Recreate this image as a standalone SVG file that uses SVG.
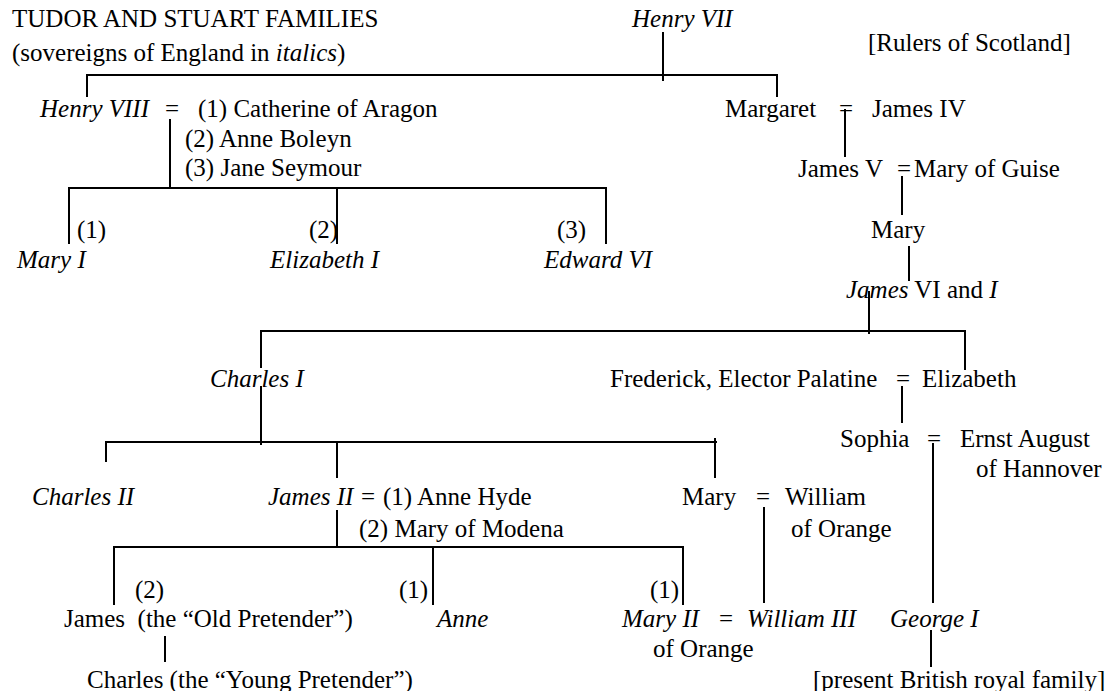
<svg xmlns="http://www.w3.org/2000/svg" width="1118" height="691" viewBox="0 0 1118 691">
<style>
text{font-family:"Liberation Serif","Times New Roman",serif;font-size:25px;fill:#000}
.i{font-style:italic}
#connectors line{stroke:#000;stroke-width:2;fill:none}
</style>
<rect width="1118" height="691" fill="#fff"/>
<g id="connectors">
<line x1="663" y1="32" x2="663" y2="81"/>
<line x1="86" y1="75" x2="778" y2="75"/>
<line x1="87" y1="75" x2="87" y2="97"/>
<line x1="777" y1="75" x2="777" y2="97"/>
<line x1="170" y1="119" x2="170" y2="188"/>
<line x1="68" y1="188" x2="607" y2="188"/>
<line x1="69" y1="188" x2="69" y2="244"/>
<line x1="337" y1="188" x2="337" y2="244"/>
<line x1="606" y1="188" x2="606" y2="244"/>
<line x1="845" y1="109" x2="845" y2="157"/>
<line x1="902" y1="176" x2="902" y2="215"/>
<line x1="909" y1="246" x2="909" y2="281"/>
<line x1="869" y1="291" x2="869" y2="334"/>
<line x1="260" y1="331" x2="966" y2="331"/>
<line x1="965" y1="331" x2="965" y2="370"/>
<line x1="261" y1="331" x2="261" y2="368"/>
<line x1="261" y1="386" x2="261" y2="445"/>
<line x1="105" y1="442" x2="717" y2="442"/>
<line x1="106" y1="442" x2="106" y2="462"/>
<line x1="337" y1="442" x2="337" y2="478"/>
<line x1="715" y1="438" x2="715" y2="478"/>
<line x1="902" y1="386" x2="902" y2="423"/>
<line x1="933" y1="443" x2="933" y2="603"/>
<line x1="337" y1="510" x2="337" y2="547"/>
<line x1="113" y1="547" x2="684" y2="547"/>
<line x1="114" y1="547" x2="114" y2="605"/>
<line x1="433" y1="547" x2="433" y2="605"/>
<line x1="683" y1="547" x2="683" y2="605"/>
<line x1="764" y1="507" x2="764" y2="603"/>
<line x1="165" y1="636" x2="165" y2="662"/>
<line x1="931" y1="630" x2="931" y2="667"/>
</g>
<g id="title"><text x="12" y="27">TUDOR AND STUART FAMILIES</text><text x="12" y="61">(sovereigns of England in <tspan class="i">italics</tspan>)</text></g>
<g id="henry7"><text class="i" x="632" y="27">Henry VII</text></g>
<g id="scotland-label"><text x="868" y="51">[Rulers of Scotland]</text></g>
<g id="henry8"><text class="i" x="40" y="117">Henry VIII</text><text x="165" y="117">=</text></g>
<g id="henry8-wives"><text x="198" y="117">(1) Catherine of Aragon</text><text x="185" y="147">(2) Anne Boleyn</text><text x="185" y="176">(3) Jane Seymour</text></g>
<g id="margaret"><text x="725" y="117">Margaret</text><text x="839" y="117">=</text></g>
<g id="james4"><text x="872" y="117">James IV</text></g>
<g id="james5"><text x="798" y="177">James V</text><text x="897" y="177">=</text></g>
<g id="mary-guise"><text x="914" y="177">Mary of Guise</text></g>
<g id="mary1"><text x="77" y="238">(1)</text><text class="i" x="17" y="268">Mary I</text></g>
<g id="elizabeth1"><text x="309" y="238">(2)</text><text class="i" x="270" y="268">Elizabeth I</text></g>
<g id="edward6"><text x="557" y="238">(3)</text><text class="i" x="544" y="268">Edward VI</text></g>
<g id="mary-scots"><text x="871" y="238">Mary</text></g>
<g id="james6"><text x="846" y="298"><tspan class="i">James</tspan> VI and <tspan class="i">I</tspan></text></g>
<g id="charles1"><text class="i" x="210" y="387">Charles I</text></g>
<g id="frederick"><text x="610" y="387">Frederick, Elector Palatine</text><text x="896" y="387">=</text></g>
<g id="elizabeth"><text x="922" y="387">Elizabeth</text></g>
<g id="sophia"><text x="840" y="447">Sophia</text><text x="927" y="447">=</text></g>
<g id="ernst"><text x="960" y="447">Ernst August</text><text x="976" y="477">of Hannover</text></g>
<g id="charles2"><text class="i" x="32" y="505">Charles II</text></g>
<g id="james2"><text class="i" x="268" y="505">James II</text><text x="361" y="505">=</text><text x="383" y="505">(1) Anne Hyde</text><text x="359" y="537">(2) Mary of Modena</text></g>
<g id="mary-orange"><text x="682" y="505">Mary</text><text x="756" y="505">=</text></g>
<g id="william-orange"><text x="785" y="505">William</text><text x="791" y="537">of Orange</text></g>
<g id="james-old"><text x="135" y="598">(2)</text><text x="64" y="627">James&#160; (the “Old Pretender”)</text></g>
<g id="anne"><text x="399" y="598">(1)</text><text class="i" x="437" y="627">Anne</text></g>
<g id="mary2"><text x="650" y="598">(1)</text><text class="i" x="622" y="627">Mary II</text><text x="719" y="627">=</text><text x="653" y="657">of Orange</text></g>
<g id="william3"><text class="i" x="747" y="627">William III</text></g>
<g id="george1"><text class="i" x="890" y="627">George I</text></g>
<g id="charles-young"><text x="87" y="688">Charles (the “Young Pretender”)</text></g>
<g id="present"><text x="813" y="688">[present British royal family]</text></g>
</svg>
